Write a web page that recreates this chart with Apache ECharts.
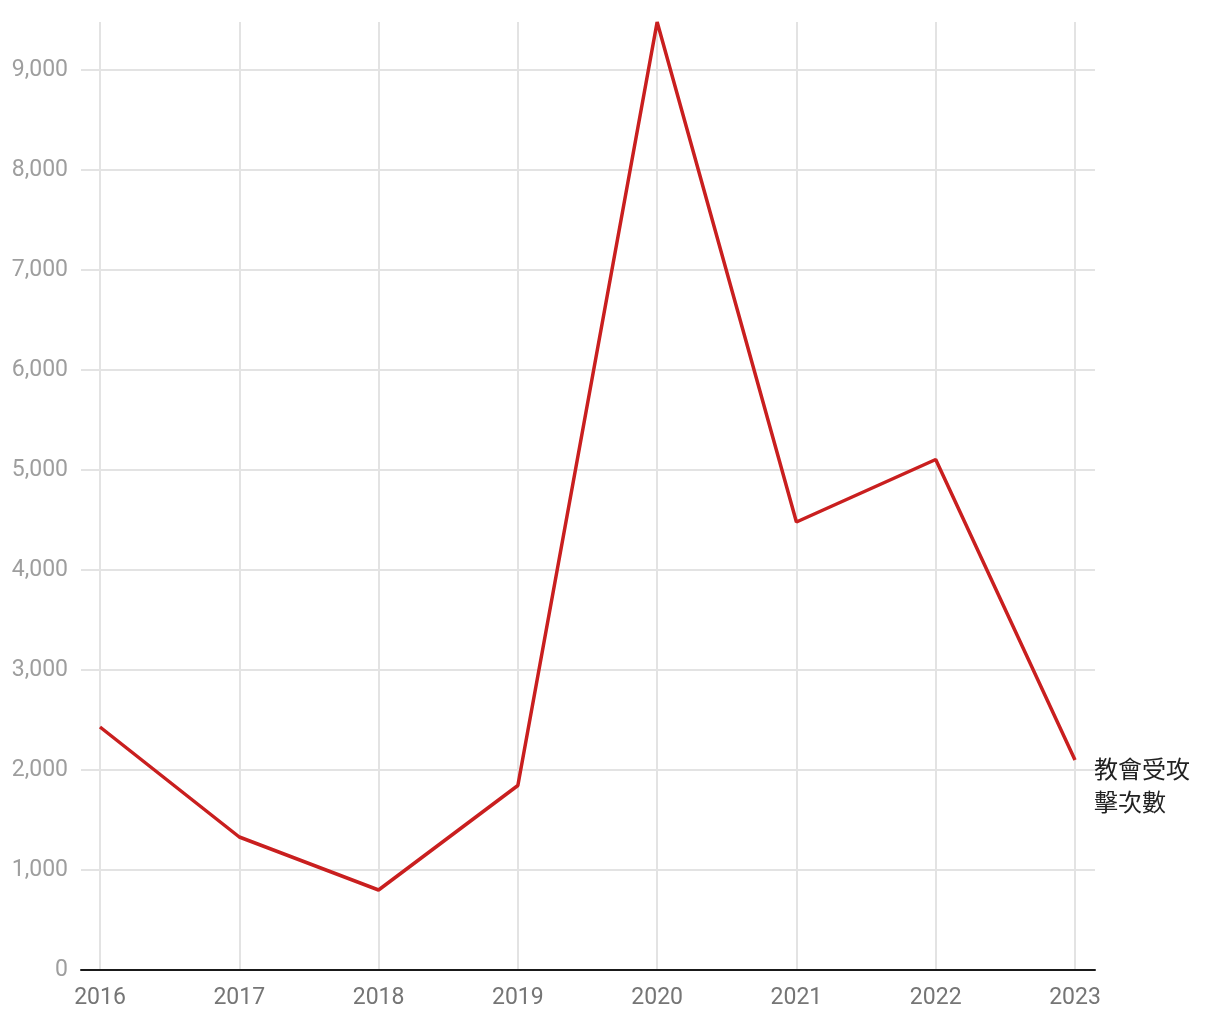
<!DOCTYPE html>
<html>
<head>
<meta charset="utf-8">
<script src="https://cdn.jsdelivr.net/npm/echarts@6/dist/echarts.min.js"></script>
<style>
html,body{margin:0;padding:0;background:#fff;}
#chart{width:1220px;height:1020px;}
</style>
</head>
<body>
<div id="chart"></div>
<script>
const years = ['2016','2017','2018','2019','2020','2021','2022','2023'];
const attacks = [2430, 1330, 800, 1845, 9480, 4480, 5105, 2100];
const seriesName = '教會受攻\n擊次數';
const yMax = 9480;
const yInterval = 1000;

const chart = echarts.init(document.getElementById('chart'));
const font = 'Roboto, "Noto Sans CJK TC", sans-serif';
chart.setOption({
  animation: false,
  backgroundColor: '#fff',
  grid: [
    {left: 81, right: 125, top: 22, bottom: 50},
    {left: 100, right: 145, top: 22, bottom: 50}
  ],
  xAxis: [
    {gridIndex: 0, type: 'value', min: 0, max: 1, show: true,
     axisLine: {show: true, onZero: false, lineStyle: {color: '#1a1a1a', width: 2}},
     axisTick: {show: false}, axisLabel: {show: false}, splitLine: {show: false}, z: 10},
    {gridIndex: 1, type: 'category', data: years, boundaryGap: false,
     axisLine: {show: false}, axisTick: {show: false},
     axisLabel: {color: '#757575', fontSize: 23, fontFamily: font, margin: 17},
     splitLine: {show: true, lineStyle: {color: '#e3e3e3', width: 2}}}
  ],
  yAxis: [
    {gridIndex: 0, type: 'value', min: 0, max: yMax, interval: yInterval,
     axisLine: {show: false}, axisTick: {show: false},
     axisLabel: {color: '#9e9e9e', fontSize: 23, fontFamily: font, margin: 13,
       showMaxLabel: false, padding: [3, 0, 0, 0],
       formatter: v => v.toLocaleString('en-US')},
     splitLine: {show: true, showMaxLine: false, lineStyle: {color: '#e3e3e3', width: 2}}},
    {gridIndex: 1, type: 'value', min: 0, max: yMax, show: false, splitLine: {show: false}}
  ],
  series: [{
    name: seriesName,
    type: 'line',
    xAxisIndex: 1, yAxisIndex: 1,
    data: attacks,
    showSymbol: false,
    symbol: 'none',
    lineStyle: {color: '#c91f1f', width: 3.5},
    itemStyle: {color: '#c91f1f'},
    z: 5,
    endLabel: {
      show: true,
      formatter: seriesName,
      color: '#222',
      fontSize: 24,
      lineHeight: 33,
      fontFamily: font,
      offset: [11, 28]
    }
  }]
});
</script>
</body>
</html>
